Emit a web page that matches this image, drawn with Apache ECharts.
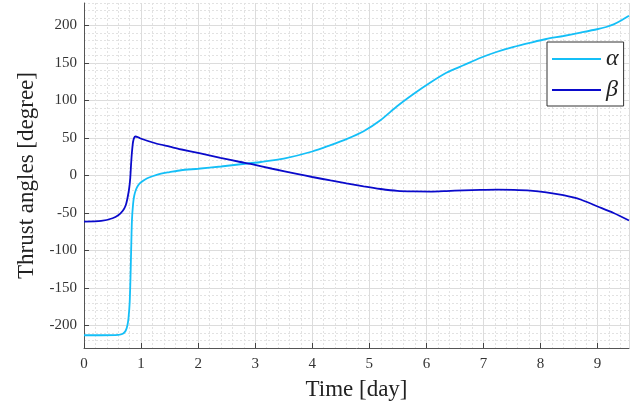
<!DOCTYPE html>
<html>
<head>
<meta charset="utf-8">
<script src="https://cdn.jsdelivr.net/npm/echarts@6/dist/echarts.min.js"></script>
<style>html,body{margin:0;padding:0;background:#fff}#c{width:637px;height:406px}</style>
</head>
<body>
<div id="c"></div>
<script>
var alphaT = [0, 0.3, 0.6, 0.68, 0.73, 0.76, 0.78, 0.80, 0.815, 0.826, 0.84, 0.86, 0.88, 0.91, 0.95, 1.0, 1.1, 1.2, 1.35, 1.5, 1.7, 2.0, 2.4, 2.86, 3.1, 3.5, 4.0, 4.32, 4.6, 4.9, 5.2, 5.48, 5.78, 6.07, 6.35, 6.65, 6.95, 7.24, 7.53, 7.82, 8.1, 8.4, 8.7, 8.99, 9.15, 9.28, 9.42, 9.55];
var alphaV = [-213, -213, -212.5, -211, -207, -200, -190, -170, -135, -100, -60, -38, -27, -19, -13, -9, -4, -1, 2.5, 4.5, 7, 9, 12, 16, 18, 22.5, 32, 40.5, 48.5, 59, 74, 92, 109, 124, 137, 147, 157, 165, 171.5, 177, 182, 186, 190.5, 195, 198, 201.5, 207, 213];
var betaT = [0, 0.3, 0.5, 0.6, 0.68, 0.73, 0.76, 0.79, 0.81, 0.825, 0.84, 0.86, 0.88, 0.9, 0.95, 0.99, 1.25, 1.5, 1.69, 2.04, 2.39, 2.74, 2.92, 3.3, 3.73, 4.0, 4.32, 4.6, 4.9, 5.2, 5.49, 5.78, 6.07, 6.35, 6.65, 6.95, 7.24, 7.53, 7.82, 8.1, 8.4, 8.7, 8.99, 9.28, 9.55];
var betaV = [-61.5, -60.5, -57, -53, -47, -40, -31, -18, -4, 15, 31, 45, 50.5, 52, 51, 49.3, 43, 38.5, 35, 29.5, 23.5, 18, 15.4, 9, 2.2, -2, -6.6, -10.5, -14.5, -18, -20.5, -21.3, -21.5, -20.8, -19.8, -19.2, -18.9, -19.2, -20.2, -22.5, -26.3, -32, -41, -50, -60];
var xTicks = [0, 1, 2, 3, 4, 5, 6, 7, 8, 9];
var yTicks = [-200, -150, -100, -50, 0, 50, 100, 150, 200];
var seriesNames = ['α', 'β'];

function zip(a, b) { return a.map(function (v, i) { return [v, b[i]]; }); }
var serif = '"Liberation Serif", "DejaVu Serif", serif';
var minorSplit = { show: true, lineStyle: { color: '#e2e2e2', type: [2, 2], width: 1 } };
var majorSplit = { show: true, lineStyle: { color: '#dcdcdc', type: 'solid', width: 1 } };
var axisLineStyle = { show: true, onZero: false, lineStyle: { color: '#555', width: 1 } };
var tickStyle = { show: true, inside: true, length: 5, lineStyle: { color: '#444', width: 1 } };

var chart = echarts.init(document.getElementById('c'), null, { renderer: 'canvas' });
chart.setOption({
  animation: false,
  backgroundColor: '#fff',
  grid: { left: 84, right: 8, top: 3, bottom: 56, containLabel: false },
  legend: {
    orient: 'vertical', left: 547, top: 42,
    backgroundColor: '#fff', borderColor: '#333', borderWidth: 1, borderRadius: 0,
    padding: [5, 5, 4, 5], itemGap: 7, itemWidth: 49, itemHeight: 2, icon: 'rect',
    textStyle: { fontFamily: serif, fontStyle: 'italic', fontSize: 24, lineHeight: 20, color: '#222' },
    data: seriesNames
  },
  xAxis: [
    {
      type: 'value', min: 0, max: 9.55, interval: 0.2,
      axisLine: { show: false }, axisTick: { show: false }, axisLabel: { show: false },
      splitLine: minorSplit
    },
    {
      type: 'value', min: 0, max: 9.55, interval: 1, position: 'bottom',
      name: 'Time [day]', nameLocation: 'middle', nameGap: 30,
      nameTextStyle: { fontFamily: serif, fontSize: 23, color: '#222' },
      axisLine: axisLineStyle,
      axisTick: tickStyle,
      axisLabel: { margin: 9, fontFamily: serif, fontSize: 15, color: '#333', showMaxLabel: false,
        formatter: function (v) { return xTicks.indexOf(Math.round(v)) >= 0 && Math.abs(v - Math.round(v)) < 1e-6 ? String(Math.round(v)) : ''; } },
      splitLine: majorSplit
    }
  ],
  yAxis: [
    {
      type: 'value', min: -230, max: 230, interval: 10,
      axisLine: { show: false }, axisTick: { show: false }, axisLabel: { show: false },
      splitLine: minorSplit
    },
    {
      type: 'value', min: -230, max: 230, position: 'left',
      name: 'Thrust angles [degree]', nameLocation: 'middle', nameGap: 46,
      nameTextStyle: { fontFamily: serif, fontSize: 23, color: '#222' },
      axisLine: axisLineStyle,
      axisTick: Object.assign({ customValues: yTicks }, tickStyle),
      axisLabel: { customValues: yTicks, margin: 7, fontFamily: serif, fontSize: 15, color: '#333' },
      splitLine: majorSplit
    }
  ],
  series: [
    {
      name: seriesNames[0], type: 'line', xAxisIndex: 1, yAxisIndex: 1,
      data: zip(alphaT, alphaV), showSymbol: false, symbol: 'none',
      smooth: 0.25, z: 3,
      lineStyle: { color: '#14bff7', width: 1.8 }, itemStyle: { color: '#14bff7' }
    },
    {
      name: seriesNames[1], type: 'line', xAxisIndex: 1, yAxisIndex: 1,
      data: zip(betaT, betaV), showSymbol: false, symbol: 'none',
      smooth: 0.25, z: 4,
      lineStyle: { color: '#0a0acb', width: 1.8 }, itemStyle: { color: '#0a0acb' }
    }
  ]
});
</script>
</body>
</html>
